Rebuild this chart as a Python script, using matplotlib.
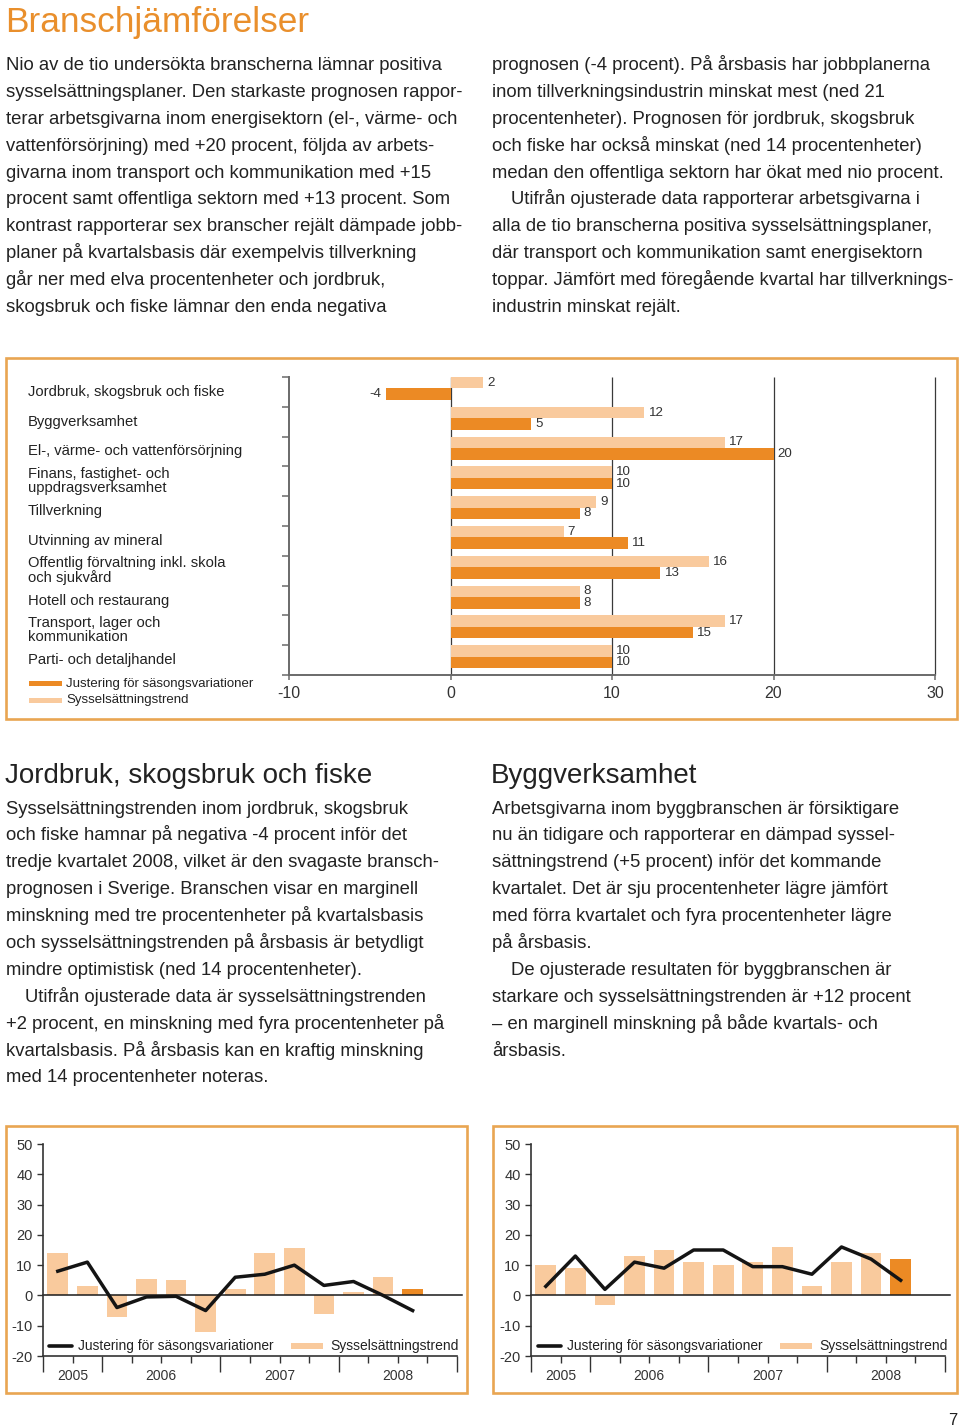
import matplotlib
matplotlib.use('Agg')
import matplotlib.pyplot as plt
from matplotlib.patches import Rectangle
from matplotlib.transforms import blended_transform_factory
import numpy as np

plt.rcParams['font.family'] = ['Liberation Sans', 'DejaVu Sans']

# ---------------- data ----------------
categories = [
    'Jordbruk, skogsbruk och fiske',
    'Byggverksamhet',
    'El-, värme- och vattenförsörjning',
    'Finans, fastighet- och\nuppdragsverksamhet',
    'Tillverkning',
    'Utvinning av mineral',
    'Offentlig förvaltning inkl. skola\noch sjukvård',
    'Hotell och restaurang',
    'Transport, lager och\nkommunikation',
    'Parti- och detaljhandel',
]
trend_values = [2, 12, 17, 10, 9, 7, 16, 8, 17, 10]        # Sysselsättningstrend
adjusted_values = [-4, 5, 20, 10, 8, 11, 13, 8, 15, 10]    # Justering för säsongsvariationer
bar_xticks = [-10, 0, 10, 20, 30]

years = ['2005', '2006', '2007', '2008']
year_quarters = [2, 4, 4, 4]
quarters = ['2005 Q3', '2005 Q4', '2006 Q1', '2006 Q2', '2006 Q3', '2006 Q4',
            '2007 Q1', '2007 Q2', '2007 Q3', '2007 Q4', '2008 Q1', '2008 Q2', '2008 Q3']
jord_trend = [14, 3, -7, 5.5, 5, -12, 2, 14, 15.5, -6, 1, 6, 2]
jord_adjusted = [8, 11, -4, -0.5, -0.3, -5, 6, 7, 10, 3.3, 4.6, 0, -5]
bygg_trend = [10, 9, -3, 13, 15, 11, 10, 11, 16, 3, 11, 14, 12]
bygg_adjusted = [3, 13, 2, 11, 9, 15, 15, 9.5, 9.5, 7, 16, 12, 5]
line_yticks = [-20, -10, 0, 10, 20, 30, 40, 50]

title = 'Branschjämförelser'
intro_left = [
    'Nio av de tio undersökta branscherna lämnar positiva',
    'sysselsättningsplaner. Den starkaste prognosen rappor-',
    'terar arbetsgivarna inom energisektorn (el-, värme- och',
    'vattenförsörjning) med +20 procent, följda av arbets-',
    'givarna inom transport och kommunikation med +15',
    'procent samt offentliga sektorn med +13 procent. Som',
    'kontrast rapporterar sex branscher rejält dämpade jobb-',
    'planer på kvartalsbasis där exempelvis tillverkning',
    'går ner med elva procentenheter och jordbruk,',
    'skogsbruk och fiske lämnar den enda negativa',
]
intro_right = [
    'prognosen (-4 procent). På årsbasis har jobbplanerna',
    'inom tillverkningsindustrin minskat mest (ned 21',
    'procentenheter). Prognosen för jordbruk, skogsbruk',
    'och fiske har också minskat (ned 14 procentenheter)',
    'medan den offentliga sektorn har ökat med nio procent.',
    'Utifrån ojusterade data rapporterar arbetsgivarna i',
    'alla de tio branscherna positiva sysselsättningsplaner,',
    'där transport och kommunikation samt energisektorn',
    'toppar. Jämfört med föregående kvartal har tillverknings-',
    'industrin minskat rejält.',
]
intro_right_indent = [5]
jord_title = 'Jordbruk, skogsbruk och fiske'
jord_lines = [
    'Sysselsättningstrenden inom jordbruk, skogsbruk',
    'och fiske hamnar på negativa -4 procent inför det',
    'tredje kvartalet 2008, vilket är den svagaste bransch-',
    'prognosen i Sverige. Branschen visar en marginell',
    'minskning med tre procentenheter på kvartalsbasis',
    'och sysselsättningstrenden på årsbasis är betydligt',
    'mindre optimistisk (ned 14 procentenheter).',
    'Utifrån ojusterade data är sysselsättningstrenden',
    '+2 procent, en minskning med fyra procentenheter på',
    'kvartalsbasis. På årsbasis kan en kraftig minskning',
    'med 14 procentenheter noteras.',
]
jord_indent = [7]
bygg_title = 'Byggverksamhet'
bygg_lines = [
    'Arbetsgivarna inom byggbranschen är försiktigare',
    'nu än tidigare och rapporterar en dämpad syssel-',
    'sättningstrend (+5 procent) inför det kommande',
    'kvartalet. Det är sju procentenheter lägre jämfört',
    'med förra kvartalet och fyra procentenheter lägre',
    'på årsbasis.',
    'De ojusterade resultaten för byggbranschen är',
    'starkare och sysselsättningstrenden är +12 procent',
    '– en marginell minskning på både kvartals- och',
    'årsbasis.',
]
bygg_indent = [6]
legend_adj = 'Justering för säsongsvariationer'
legend_trend = 'Sysselsättningstrend'

# ---------------- style ----------------
W, H = 960, 1428
LIGHT = '#F9CA9D'
DARK = '#EC8A24'
BOX = '#E9A552'
TXT = '#222222'
HEAD = '#E98F2C'
BODY_FS = 13.3

fig = plt.figure(figsize=(W / 100, H / 100), dpi=100)
page = fig.add_axes([0, 0, 1, 1])
page.set_xlim(0, W)
page.set_ylim(H, 0)
page.axis('off')


def px_axes(x0, y0, x1, y1):
    ax = fig.add_axes([x0 / W, 1 - y1 / H, (x1 - x0) / W, (y1 - y0) / H])
    ax.patch.set_visible(False)
    return ax


def body(x, y0, lines, indent=()):
    for k, line in enumerate(lines):
        page.text(x + (19 if k in indent else 0), y0 + 26.9 * k, line,
                  fontsize=BODY_FS, color=TXT, va='baseline', ha='left')


# title + intro text
page.text(5, 32, title, fontsize=25.4, color=HEAD, va='baseline', ha='left')
body(6, 70, intro_left)
body(492, 70, intro_right, intro_right_indent)

# section texts
page.text(5, 783, jord_title, fontsize=20, color=TXT, va='baseline', ha='left')
page.text(491, 783, bygg_title, fontsize=20, color=TXT, va='baseline', ha='left')
body(6, 813.5, jord_lines, jord_indent)
body(492, 813.5, bygg_lines, bygg_indent)

# boxes
for (x0, y0, x1, y1) in [(6, 358, 957, 719), (6, 1126, 467, 1393), (493, 1126, 957, 1393)]:
    page.add_patch(Rectangle((x0, y0), x1 - x0, y1 - y0, fill=False,
                             edgecolor=BOX, lw=1.9))

page.text(957, 1425, '7', fontsize=12, color=TXT, ha='right', va='baseline')

# ---------------- horizontal bar chart ----------------
ax1 = px_axes(289, 377, 935, 675)
n = len(categories)
pos = np.arange(n)
h = 0.385
ax1.barh(pos, trend_values, height=h, align='edge', color=LIGHT, zorder=2)
ax1.barh(pos + h, adjusted_values, height=h, align='edge', color=DARK, zorder=2)
ax1.set_xlim(bar_xticks[0], bar_xticks[-1])
ax1.set_ylim(n, 0)
ax1.vlines([t for t in bar_xticks if t > bar_xticks[0]], 0, n, colors='#3a3a3a',
           lw=0.9, zorder=1, clip_on=False)
for s in ['top', 'right']:
    ax1.spines[s].set_visible(False)
for s in ['left', 'bottom']:
    ax1.spines[s].set_color('#6a6a6a')
    ax1.spines[s].set_linewidth(1.4)
ax1.set_yticks(np.arange(n + 1))
ax1.set_yticklabels([])
ax1.tick_params(axis='y', direction='out', length=5, width=1.1, color='#6a6a6a')
ax1.set_xticks(bar_xticks)
ax1.set_xticklabels([str(t) for t in bar_xticks])
ax1.tick_params(axis='x', direction='out', length=3.5, width=1.1, color='#6a6a6a',
                labelsize=11.5, labelcolor='#333333', pad=4.5)

for i, (t, a) in enumerate(zip(trend_values, adjusted_values)):
    for v, yc in [(t, i + h / 2), (a, i + 1.5 * h)]:
        ax1.annotate(str(v), (v, yc), xytext=(3 if v >= 0 else -3, 0),
                     textcoords='offset points', ha='left' if v >= 0 else 'right',
                     va='center', fontsize=9.6, color='#333333')

tr = blended_transform_factory(ax1.transAxes, ax1.transData)
for i, c in enumerate(categories):
    ax1.text((28 - 289) / 646, i + 0.5, c, transform=tr, ha='left', va='center',
             fontsize=10.6, color=TXT, linespacing=1.0)

# legend of bar chart
page.add_patch(Rectangle((29, 680.5), 33, 5.5, color=DARK, lw=0))
page.add_patch(Rectangle((29, 697.5), 33, 5.5, color=LIGHT, lw=0))
page.text(66, 683.5, legend_adj, fontsize=9.5, color=TXT, va='center', ha='left')
page.text(66, 700.5, legend_trend, fontsize=9.5, color=TXT, va='center', ha='left')


# ---------------- quarterly charts ----------------
def trend_chart(box, trend, adjusted, leg_x):
    ax = px_axes(*box)
    m = len(trend)
    x = np.arange(m) + 0.5
    colors = [LIGHT] * (m - 1) + [DARK]
    ax.bar(x, trend, width=0.7, color=colors, zorder=1)
    total = sum(year_quarters)
    ax.axhline(0, color='#1a1a1a', lw=1.1, zorder=2, xmax=1.012, clip_on=False)
    ax.plot(x, adjusted, color='#141414', lw=2.5, zorder=3)
    ax.set_xlim(0, total)
    ax.set_ylim(line_yticks[0], line_yticks[-1])
    for s in ['top', 'right']:
        ax.spines[s].set_visible(False)
    for s in ['left', 'bottom']:
        ax.spines[s].set_color('#333333')
        ax.spines[s].set_linewidth(1.2)
    ax.set_yticks(line_yticks)
    ax.set_yticklabels([str(t) for t in line_yticks])
    ax.tick_params(axis='y', direction='out', length=4.5, width=1, color='#333333',
                   labelsize=10.5, labelcolor='#333333', pad=3)
    bounds = np.concatenate([[0], np.cumsum(year_quarters)])
    ax.set_xticks(bounds)
    ax.set_xticklabels([])
    ax.set_xticks([q for q in range(total + 1) if q not in bounds], minor=True)
    ax.tick_params(axis='x', which='major', direction='out', length=11.5, width=1,
                   color='#333333')
    ax.tick_params(axis='x', which='minor', direction='out', length=5, width=1,
                   color='#333333')
    for b0, b1, yr in zip(bounds[:-1], bounds[1:], years):
        ax.annotate(yr, ((b0 + b1) / 2, line_yticks[0]), xytext=(0, -14.5),
                    textcoords='offset points', ha='center', va='center',
                    fontsize=10, color='#333333')
    # legend
    lx = leg_x
    page.plot([lx, lx + 23], [1346, 1346], color='#141414', lw=2.6,
              solid_capstyle='round')
    page.text(lx + 29, 1346, legend_adj, fontsize=9.9, color=TXT, va='center', ha='left')
    page.add_patch(Rectangle((lx + 242, 1343), 32, 6, color=LIGHT, lw=0))
    page.text(lx + 281, 1346, legend_trend, fontsize=10, color=TXT, va='center',
              ha='left')
    return ax


trend_chart((43, 1144, 457, 1356), jord_trend, jord_adjusted, 49)
trend_chart((531, 1144, 945, 1356), bygg_trend, bygg_adjusted, 538)

fig.savefig('out.png', dpi=100)
